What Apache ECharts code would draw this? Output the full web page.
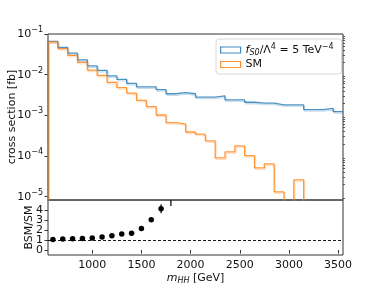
<!DOCTYPE html>
<html><head><meta charset="utf-8">
<script src="https://cdn.jsdelivr.net/npm/echarts@6/dist/echarts.min.js"></script>
<style>html,body{margin:0;padding:0;background:#fff}#c{width:382px;height:287px}</style>
</head><body><div id="c"></div>
<script>
// bin centres [GeV], width 100
const binCenters = [600,700,800,900,1000,1100,1200,1300,1400,1500,1600,1700,1800,1900,2000,2100,2200,2300,2400,2500,2600,2700,2800,2900,3000,3100,3200,3300,3400,3500];
const binWidth = 100;
const bsmXsec = [0.066,0.047,0.034,0.023,0.0164,0.0128,0.0093,0.0077,0.0061,0.0050,0.0050,0.0043,0.0034,0.0036,0.0034,0.0028,0.0028,0.0030,0.0024,0.0024,0.0021,0.0020,0.0020,0.0018,0.0018,0.0018,0.00138,0.00138,0.00149,0.00123];
const smXsec = [0.064,0.0435,0.0298,0.020,0.0130,0.0096,0.0065,0.0048,0.0035,0.00234,0.00164,0.00102,0.00066,0.00061,0.00039,0.000345,0.000236,0.0000897,0.000126,0.000177,0.000102,0.000051,0.000064,0.0000131,0,0.0000259,0,0,0,0];
const ratioX = [600,700,800,900,1000,1100,1200,1300,1400,1500,1600,1700,1800];
const ratioVal = [1.05,1.09,1.13,1.16,1.2,1.29,1.43,1.6,1.68,2.15,3.03,4.12,5.15];
const ratioErr = [0.03,0.03,0.03,0.04,0.05,0.06,0.07,0.09,0.1,0.13,0.22,0.45,0.75];
const xTicks = [1000,1500,2000,2500,3000,3500];
const yTicksTop = [1e-5,1e-4,1e-3,1e-2,1e-1];
const yTicksRatio = [0,1,2,3,4];

const X_MIN = 550, X_MAX = 3550, Y_MIN = 8.3e-6, Y_MAX = 0.1, FLOOR = 1e-9, R_MIN = -0.5, R_MAX = 5;

function stepData(vals){
  const pts = [[binCenters[0]-binWidth/2, FLOOR]];
  vals.forEach((v,i)=>pts.push([binCenters[i]-binWidth/2, v>0?v:FLOOR]));
  const n = vals.length-1;
  pts.push([binCenters[n]+binWidth/2, vals[n]>0?vals[n]:FLOOR]);
  return pts;
}
const minorTop = [];
for(let k=-6;k<=-2;k++){for(let m=2;m<=9;m++){const v=m*Math.pow(10,k); if(v>Y_MIN&&v<Y_MAX) minorTop.push(v);}}
// spread ratio ticks over overlaid axes so that no label is auto-hidden
const ratioTicksZero = yTicksRatio.filter(v=>v===0).map(v=>v+1e-9);
const ratioTicksA = yTicksRatio.filter((v,i)=>v!==0 && i%2===0);
const ratioTicksB = yTicksRatio.filter((v,i)=>i%2===1);

const supExp = {'-1':'−1','-2':'−2','-3':'−3','-4':'−4','-5':'−5'};
const font = 'DejaVu Sans';
const txt = '#111';
const BLUE = '#1f77b4', ORANGE = '#ff7f0e';

function ratioAxis(ticks, withName){
  const ax = {type:'value', gridIndex:1, position:'left', offset:0, min:R_MIN, max:R_MAX, axisLine:{show:false, onZero:false}, splitLine:{show:false},
     axisTick:{show:true, length:3.5, lineStyle:{color:'#333'}, customValues:ticks},
     axisLabel:{customValues:ticks, fontSize:11, color:txt, fontFamily:font, margin:5, hideOverlap:false, showMinLabel:true, showMaxLabel:true,
       formatter:function(v){return String(Math.round(v));}}};
  if(withName){ Object.assign(ax, {name:'BSM/SM', nameLocation:'middle', nameGap:13, nameMoveOverlap:false, nameTextStyle:{fontSize:11, color:txt, fontFamily:font}}); }
  return ax;
}

const chart = echarts.init(document.getElementById('c'), null, {renderer:'canvas'});
chart.setOption({
  animation:false,
  textStyle:{fontFamily:font},
  grid:[
    {left:48, right:39, top:34, height:166, show:true, borderColor:'#333', borderWidth:1, outerBoundsMode:'none', containLabel:false},
    {left:48, right:39, top:200, height:55, show:true, borderColor:'#333', borderWidth:1, outerBoundsMode:'none', containLabel:false}
  ],
  legend:{
    left:216, top:39, orient:'vertical', icon:'rect', itemWidth:20, itemHeight:6, itemGap:2,
    padding:[4,8,4,4], borderColor:'#d8d8d8', borderWidth:1, borderRadius:3, backgroundColor:'rgba(255,255,255,0.8)',
    data:[
      {name:'BSM', icon:'rect', itemStyle:{color:'rgba(255,255,255,0)', borderColor:'rgba(31,119,180,0.85)', borderWidth:1.2}},
      {name:'SM', icon:'rect', itemStyle:{color:'rgba(255,255,255,0)', borderColor:'rgba(255,127,14,0.85)', borderWidth:1.2}}
    ],
    formatter:function(n){ return n==='BSM' ? '{i|f}{isub|S0}{n|/Λ}{sup|4}{n| = 5 TeV}{sup|−4}' : '{n|SM}'; },
    textStyle:{fontFamily:font, fontSize:11, color:txt, rich:{
      n:{fontSize:11, fontFamily:font, color:txt, lineHeight:14},
      i:{fontSize:11, fontFamily:font, fontStyle:'italic', color:txt, lineHeight:14},
      isub:{fontSize:8, fontFamily:font, fontStyle:'italic', color:txt, verticalAlign:'bottom', lineHeight:14},
      sup:{fontSize:8, fontFamily:font, color:txt, verticalAlign:'top', lineHeight:14}
    }}
  },
  xAxis:[
    {type:'value', gridIndex:0, min:X_MIN, max:X_MAX, axisLine:{show:false}, axisTick:{show:false}, axisLabel:{show:false}, splitLine:{show:false}},
    {type:'value', gridIndex:1, min:X_MIN, max:X_MAX, axisLine:{show:false}, splitLine:{show:false},
     axisTick:{show:true, length:3.5, lineStyle:{color:'#333'}, customValues:xTicks},
     axisLabel:{customValues:xTicks, fontSize:11, color:txt, fontFamily:font, margin:5, showMinLabel:true, showMaxLabel:true, formatter:function(v){return String(v);}},
     name:'{i|m}{isub|HH}{n| [GeV]}', nameLocation:'middle', nameGap:16, nameMoveOverlap:false,
     nameTextStyle:{fontSize:11, color:txt, rich:{
       n:{fontSize:11, fontFamily:font, color:txt, lineHeight:14},
       i:{fontSize:11, fontFamily:font, fontStyle:'italic', color:txt, lineHeight:14},
       isub:{fontSize:8, fontFamily:font, fontStyle:'italic', color:txt, verticalAlign:'bottom', lineHeight:14}
     }}}
  ],
  yAxis:[
    {type:'log', gridIndex:0, min:Y_MIN, max:Y_MAX, logBase:10, axisLine:{show:false}, splitLine:{show:false},
     axisTick:{show:true, length:3.5, lineStyle:{color:'#333'}, customValues:yTicksTop},
     axisLabel:{customValues:yTicksTop, margin:5, color:txt, hideOverlap:false, showMinLabel:true, showMaxLabel:true,
       formatter:function(v){ const e=Math.round(Math.log10(v)); return '{b|10}{s|'+supExp[String(e)]+'}'; },
       rich:{b:{fontSize:11, fontFamily:font, color:txt, lineHeight:16}, s:{fontSize:8, fontFamily:font, color:txt, verticalAlign:'top', lineHeight:16}}},
     name:'cross section [fb]', nameLocation:'middle', nameGap:30, nameMoveOverlap:false, nameTextStyle:{fontSize:11, color:txt, fontFamily:font}},
    {type:'log', gridIndex:0, min:Y_MIN, max:Y_MAX, logBase:10, axisLine:{show:false}, splitLine:{show:false},
     axisTick:{show:true, length:2, lineStyle:{color:'#333', width:0.8}, customValues:minorTop},
     axisLabel:{show:false}},
    ratioAxis(ratioTicksA, true),
    ratioAxis(ratioTicksB, false),
    ratioAxis(ratioTicksZero, false)
  ],
  series:[
    {name:'BSM', type:'line', xAxisIndex:0, yAxisIndex:0, step:'end', showSymbol:false, symbol:'none', clip:true,
     data:stepData(bsmXsec), color:BLUE,
     lineStyle:{color:'rgba(31,119,180,0.8)', width:1.3, shadowColor:'rgba(31,119,180,0.3)', shadowBlur:0, shadowOffsetX:1, shadowOffsetY:1.5}},
    {name:'SM', type:'line', xAxisIndex:0, yAxisIndex:0, step:'end', showSymbol:false, symbol:'none', clip:true,
     data:stepData(smXsec), color:ORANGE,
     lineStyle:{color:'rgba(255,127,14,0.8)', width:1.3, shadowColor:'rgba(255,127,14,0.3)', shadowBlur:0, shadowOffsetX:1, shadowOffsetY:1.5}},
    {name:'ratioErr', type:'custom', xAxisIndex:1, yAxisIndex:2,
     data:ratioX.map((x,i)=>[x, ratioVal[i], ratioErr[i]]),
     encode:{x:0, y:1},
     renderItem:function(params, api){
       const x=api.value(0), v=api.value(1), e=api.value(2);
       const p1=api.coord([x, v-e]), p2=api.coord([x, v+e]);
       const cs=params.coordSys; const top=cs.y, bot=cs.y+cs.height;
       const c=(y)=>Math.min(Math.max(y, top), bot);
       return {type:'line', shape:{x1:p1[0], y1:c(p1[1]), x2:p2[0], y2:c(p2[1])}, style:{stroke:'#000', lineWidth:1.2}};
     }},
    {name:'ratio', type:'scatter', xAxisIndex:1, yAxisIndex:2, symbolSize:5.5, clip:true,
     itemStyle:{color:'#000', opacity:1}, data:ratioX.map((x,i)=>[x, ratioVal[i]]),
     markLine:{silent:true, symbol:'none', label:{show:false}, lineStyle:{color:'#000', type:[3,2], width:0.9},
       data:[{yAxis:1}]}}
  ]
});
</script></body></html>
